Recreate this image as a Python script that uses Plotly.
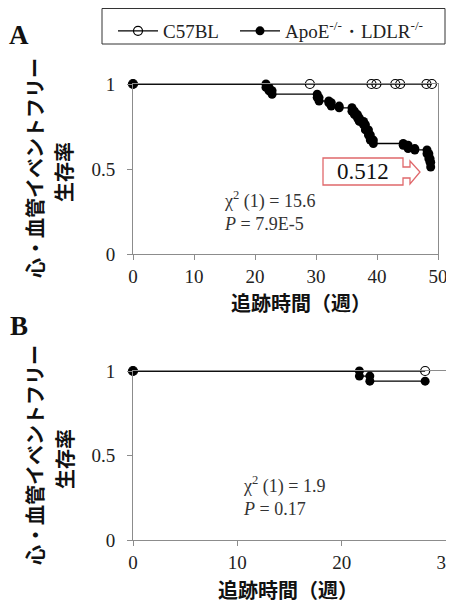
import plotly.graph_objects as go

# page is 454x605; the browser body has an 8px margin, so the figure is
# 446x597 and all pixel positions below are page pixels shifted by 8.
W, H = 446, 597
OFF = 8

# ---------------- data ----------------
# Panel A (0-50 weeks)
a_c57_censor_weeks = [29.0, 39.1, 39.9, 43.0, 43.8, 48.1, 49.0]
a_ko_event_weeks = [21.8, 22.3, 22.8, 30.2, 30.5, 32.1, 32.5, 33.8, 35.9, 36.3,
                    36.8, 37.1, 37.8, 38.1, 38.6, 38.9, 39.4, 44.3, 45.1, 46.2,
                    48.2, 48.5, 48.7, 48.8]
a_ko_survival = [0.98, 0.96, 0.94, 0.92, 0.90, 0.89, 0.87, 0.86, 0.84, 0.82,
                 0.80, 0.78, 0.76, 0.73, 0.70, 0.67, 0.65, 0.64, 0.62, 0.612,
                 0.59, 0.56, 0.54, 0.512]
# Panel B (0-30 weeks)
b_c57_censor_weeks = [28.0]
b_ko_event_weeks = [21.7, 22.7]
b_ko_survival = [0.97, 0.94]
b_ko_end_week = 28.0

a_x_ticks = [0, 10, 20, 30, 40, 50]
b_x_ticks = [0, 10, 20, 30]
y_ticks = [0, 0.5, 1]
y_tick_labels = ["0", "0.5", "1"]

a_stats = ["χ<sup>2</sup> (1) = 15.6", "<i>P</i> = 7.9E-5"]
b_stats = ["χ<sup>2</sup> (1) = 1.9", "<i>P</i> = 0.17"]
a_final_value = "0.512"

series_names = ["C57BL", "ApoE<sup>-/-</sup>・LDLR<sup>-/-</sup>"]
x_title = "追跡時間（週）"
y_title_lines = ["心・血管イベントフリー", "生存率"]


def km_steps(times, surv, start=1.0, end=None):
    xs, ys = [0.0], [start]
    prev = start
    for t, s in zip(times, surv):
        xs += [t, t]
        ys += [prev, s]
        prev = s
    if end is not None:
        xs.append(end)
        ys.append(prev)
    return xs, ys


SERIF = "Liberation Serif"
CJK = "Noto Sans CJK JP"
AX = "#8c8c8c"
MS = 9


def px(p):
    return (p - OFF) / W


def py(p):
    return 1 - (p - OFF) / H


fig = go.Figure()

# Panel A
fig.add_trace(go.Scatter(
    x=[0.0] + a_c57_censor_weeks, y=[1.0] * (len(a_c57_censor_weeks) + 1),
    mode="lines+markers", name=series_names[0], legend="legend",
    line=dict(color="black", width=1.3),
    marker=dict(symbol="circle-open", size=MS, color="black", line=dict(width=1.2)),
    cliponaxis=False, xaxis="x", yaxis="y"))
ax_, ay_ = km_steps(a_ko_event_weeks, a_ko_survival)
fig.add_trace(go.Scatter(
    x=ax_, y=ay_, mode="lines+markers", name=series_names[1], legend="legend2",
    line=dict(color="black", width=1.3),
    marker=dict(symbol="circle", size=MS, color="black"),
    cliponaxis=False, xaxis="x", yaxis="y"))

# Panel B
fig.add_trace(go.Scatter(
    x=[0.0] + b_c57_censor_weeks, y=[1.0] * (len(b_c57_censor_weeks) + 1),
    mode="lines+markers", showlegend=False,
    line=dict(color="black", width=1.3),
    marker=dict(symbol="circle-open", size=MS, color="black", line=dict(width=1.2)),
    cliponaxis=False, xaxis="x2", yaxis="y2"))
bx_, by_ = km_steps(b_ko_event_weeks, b_ko_survival, end=b_ko_end_week)
fig.add_trace(go.Scatter(
    x=bx_, y=by_, mode="lines+markers", showlegend=False,
    line=dict(color="black", width=1.3),
    marker=dict(symbol="circle", size=MS, color="black"),
    cliponaxis=False, xaxis="x2", yaxis="y2"))


def xax(domain, rng, ticks, anchor):
    return dict(domain=domain, range=rng, anchor=anchor, tickvals=ticks,
                showline=True, mirror=True, linecolor=AX, linewidth=1,
                ticks="outside", ticklen=5, tickcolor=AX, showgrid=False,
                zeroline=False, ticklabelstandoff=0, automargin=False,
                ticklabeloverflow="allow",
                tickfont=dict(family=SERIF, size=19, color="#222"))


def yax(domain, anchor):
    return dict(domain=domain, range=[0, 1], anchor=anchor, tickvals=y_ticks,
                ticktext=y_tick_labels, showline=True, mirror=True,
                linecolor=AX, linewidth=1, ticks="outside", ticklen=5,
                tickcolor=AX, showgrid=False, zeroline=False,
                ticklabelstandoff=8, automargin=False,
                tickfont=dict(family=SERIF, size=19, color="#222"))


def leg(xpage):
    return dict(orientation="h", x=px(xpage), y=py(12), xanchor="left", yanchor="top",
                borderwidth=0, bgcolor="rgba(0,0,0,0)",
                font=dict(family=SERIF, size=19, color="#222"), itemwidth=40)


fig.update_layout(
    template="none",
    width=W, height=H, margin=dict(l=0, r=0, t=0, b=0, autoexpand=False),
    plot_bgcolor="white", paper_bgcolor="white",
    xaxis=xax([px(133), px(438)], [0, 50], a_x_ticks, "y"),
    yaxis=yax([py(254), py(84)], "x"),
    xaxis2=xax([px(133), px(446)], [0, 30], b_x_ticks, "y2"),
    yaxis2=yax([py(540), py(371)], "x2"),
    legend=leg(113),
    legend2=leg(235),
    showlegend=True,
)

C = dict(xref="paper", yref="paper", showarrow=False, xanchor="center", yanchor="middle")
TF = dict(family=CJK, size=20, color="#111", weight=600)
anns = []
# panel labels
anns.append(dict(text="<b>A</b>", x=px(19), y=py(35),
                 font=dict(family=SERIF, size=27, color="#111"), **C))
anns.append(dict(text="<b>B</b>", x=px(19), y=py(326),
                 font=dict(family=SERIF, size=27, color="#111"), **C))
# x titles
anns.append(dict(text=x_title, x=px(301), y=py(302), font=TF, **C))
anns.append(dict(text=x_title, x=px(288), y=py(589), font=TF, **C))
# y titles
for cy in (168, 455):
    anns.append(dict(text=y_title_lines[0], x=px(34), y=py(cy), textangle=-90,
                     font=TF, **C))
    anns.append(dict(text=y_title_lines[1], x=px(64), y=py(cy + 4), textangle=-90,
                     font=TF, **C))
# stats
L = dict(C, xanchor="left", align="left")
anns.append(dict(text="<br>".join(a_stats), x=px(222), y=py(211),
                 font=dict(family=SERIF, size=18, color="#333"), **L))
anns.append(dict(text="<br>".join(b_stats), x=px(241), y=py(496),
                 font=dict(family=SERIF, size=18, color="#333"), **L))
# callout value
anns.append(dict(text=a_final_value, x=px(363), y=py(172),
                 font=dict(family=SERIF, size=23, color="#111"), **C))
fig.update_layout(annotations=anns)

# legend frame
fig.add_shape(type="rect", xref="paper", yref="paper",
              x0=px(102), x1=px(445), y0=py(44), y1=py(8.5),
              line=dict(color="#333", width=1), fillcolor="rgba(0,0,0,0)")

# callout arrow outline
pts = [(323, 158), (403, 158), (403, 167), (410, 167), (410, 161), (420, 172),
       (410, 184), (410, 178), (403, 178), (403, 185), (323, 185)]
path = "M " + " L ".join(f"{px(x):.5f},{py(y):.5f}" for x, y in pts) + " Z"
fig.add_shape(type="path", path=path, xref="paper", yref="paper",
              line=dict(color="#e0686b", width=1.3), fillcolor="rgba(0,0,0,0)")

fig.write_html("out.html")
